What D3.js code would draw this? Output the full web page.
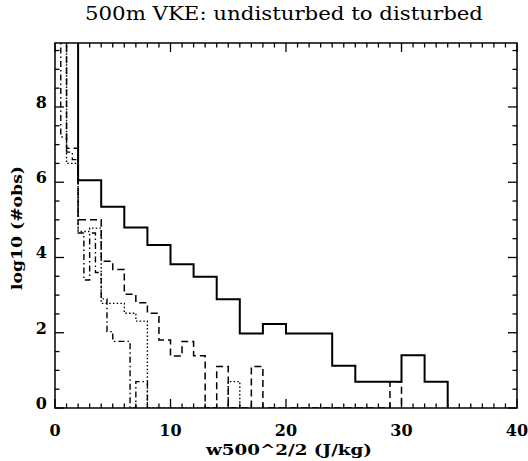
<!DOCTYPE html>
<html>
<head>
<meta charset="utf-8">
<script src="https://cdn.jsdelivr.net/npm/d3@7/dist/d3.min.js"></script>
<style>
  html, body { margin: 0; padding: 0; background: #fff; }
  svg { display: block; }
</style>
</head>
<body>
<div id="chart"></div>
<script>
// histogram data: bin left edges and log10(#obs) per bin (values above the axis top get clipped)
const solidEdges = [0, 2, 4, 6, 8, 10, 12, 14, 16, 18, 20, 22, 24, 26, 28, 30, 32, 34]
const solidObs   = [10.5, 6.05, 5.35, 4.8, 4.33, 3.82, 3.49, 2.89, 1.98, 2.23, 1.98, 1.98, 1.12, 0.70, 0.70, 1.40, 0.70]

const dashEdges = [0, 1, 2, 3, 4, 5, 6, 7, 8, 9, 10, 11, 12, 13, 14, 15, 16, 17, 18, 29, 30]
const dashObs   = [10.5, 6.9, 5.0, 5.0, 3.9, 3.68, 3.02, 2.8, 2.52, 1.81, 1.38, 1.77, 1.39, 0, 1.1, 0, 0, 1.1, 0, 0.70]

const dotEdges = [0, 1, 2, 3, 4, 5, 6, 7, 8, 15, 16]
const dotObs   = [10.5, 6.5, 4.69, 4.78, 2.78, 2.78, 2.52, 2.31, 0, 0.70]

const dashDotEdges = [0, 0.5, 1, 1.5, 2, 2.5, 3, 3.5, 4, 4.5, 5, 5.5, 6, 6.5, 7, 8]
const dashDotObs   = [10.5, 7.2, 6.8, 6.6, 4.65, 3.4, 4.65, 3.6, 2.9, 2.03, 1.77, 1.77, 1.77, 0, 0.70]

const xTicks = [0, 10, 20, 30, 40]
const yTicks = [0, 2, 4, 6, 8]

const W = 528, H = 461
const M = { left: 55, right: 11, top: 43, bottom: 53 }
const FONT = "'DejaVu Serif', 'Liberation Serif', serif"

const svg = d3.select("#chart").append("svg")
  .attr("width", W)
  .attr("height", H)

const x = d3.scaleLinear().domain([0, 40]).range([M.left, W - M.right])
const y = d3.scaleLinear().domain([0, 9.7]).range([H - M.bottom, M.top])

svg.append("defs").append("clipPath")
  .attr("id", "plot-clip")
  .append("rect")
  .attr("x", M.left).attr("y", M.top)
  .attr("width", W - M.left - M.right)
  .attr("height", H - M.top - M.bottom)

// step line for one histogram
function stepPath(edges, obs) {
  const pts = obs.map((v, i) => [edges[i], v])
  pts.push([edges[edges.length - 1], obs[obs.length - 1]])
  pts.push([edges[edges.length - 1], 0])
  return d3.line()
    .x(d => x(d[0]))
    .y(d => y(d[1]))
    .curve(d3.curveStepAfter)(pts)
}

const series = [
  { edges: dotEdges, obs: dotObs, dash: "1.5,2.2", width: 1.4 },
  { edges: dashDotEdges, obs: dashDotObs, dash: "6,3,1.5,3", width: 1.4 },
  { edges: dashEdges, obs: dashObs, dash: "7,4", width: 1.5 },
  { edges: solidEdges, obs: solidObs, dash: null, width: 2 },
]

const plot = svg.append("g").attr("clip-path", "url(#plot-clip)")
series.forEach(s => {
  plot.append("path")
    .attr("d", stepPath(s.edges, s.obs))
    .attr("fill", "none")
    .attr("stroke", "#000")
    .attr("stroke-width", s.width)
    .attr("stroke-dasharray", s.dash)
})

// axes: ticks pointing inward on all four sides
const x0 = M.left, x1 = W - M.right, y0 = H - M.bottom, y1 = M.top

function drawAxes() {
  const g = svg.append("g").attr("stroke", "#000").attr("fill", "none")
  g.append("rect")
    .attr("x", x0).attr("y", y1)
    .attr("width", x1 - x0).attr("height", y0 - y1)
    .attr("stroke-width", 1.5)

  const xMinor = x.ticks(40)
  xMinor.forEach(v => {
    const major = xTicks.includes(v)
    const len = major ? 9 : 4.5
    g.append("line").attr("x1", x(v)).attr("x2", x(v)).attr("y1", y0).attr("y2", y0 - len).attr("stroke-width", 1.3)
    g.append("line").attr("x1", x(v)).attr("x2", x(v)).attr("y1", y1).attr("y2", y1 + len).attr("stroke-width", 1.3)
  })

  const yMinor = d3.range(0, 9.7, 0.5)
  yMinor.forEach(v => {
    const major = yTicks.includes(v)
    const len = major ? 9 : 4.5
    g.append("line").attr("x1", x0).attr("x2", x0 + len).attr("y1", y(v)).attr("y2", y(v)).attr("stroke-width", 1.3)
    g.append("line").attr("x1", x1).attr("x2", x1 - len).attr("y1", y(v)).attr("y2", y(v)).attr("stroke-width", 1.3)
  })

  const labels = svg.append("g")
    .attr("font-family", FONT)
    .attr("font-weight", "bold")
    .attr("font-size", 16)
    .attr("fill", "#000")

  xTicks.forEach(v => {
    labels.append("text")
      .attr("x", x(v)).attr("y", y0 + 28)
      .attr("text-anchor", "middle")
      .text(v)
  })
  yTicks.forEach(v => {
    labels.append("text")
      .attr("x", x0 - 8).attr("y", y(v) + 1)
      .attr("text-anchor", "end")
      .text(v)
  })

  labels.append("text")
    .attr("x", 289).attr("y", 455)
    .attr("text-anchor", "middle")
    .attr("font-size", 15)
    .attr("textLength", 166)
    .attr("lengthAdjust", "spacingAndGlyphs")
    .text("w500^2/2 (J/kg)")

  labels.append("text")
    .attr("transform", "translate(22,228) rotate(-90)")
    .attr("text-anchor", "middle")
    .attr("font-size", 15)
    .attr("textLength", 124)
    .attr("lengthAdjust", "spacingAndGlyphs")
    .text("log10 (#obs)")

  svg.append("text")
    .attr("x", 284).attr("y", 20)
    .attr("text-anchor", "middle")
    .attr("font-family", FONT)
    .attr("font-size", 19)
    .attr("textLength", 398)
    .attr("lengthAdjust", "spacingAndGlyphs")
    .text("500m VKE: undisturbed to disturbed")
}

drawAxes()
</script>
</body>
</html>
